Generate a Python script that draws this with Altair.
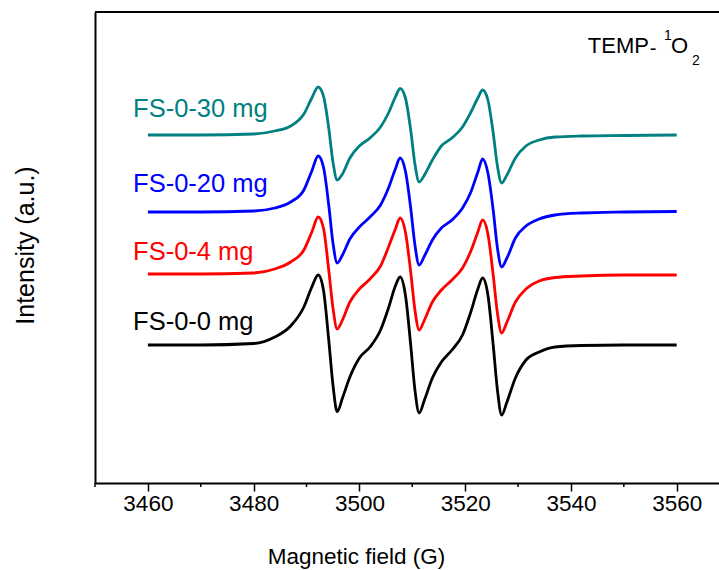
import altair as alt
import pandas as pd

# ---- data ----
field = [3460, 3470, 3480, 3484, 3487, 3489.5, 3491, 3492.2, 3493.2, 3494.2,
         3495.0, 3495.8, 3496.8, 3498.2, 3500, 3502, 3504, 3505.5, 3506.8, 3507.7,
         3508.7, 3509.7, 3510.5, 3511.3, 3512.3, 3513.8, 3515.5, 3517.5, 3519.5, 3521,
         3522.4, 3523.3, 3524.3, 3525.3, 3526.1, 3526.9, 3527.9, 3529.5, 3531.5, 3534,
         3537, 3542, 3550, 3560]

fs_0_0 = [138, 138, 139.5, 146, 157, 176, 196, 208, 193, 143,
          98, 71.3, 85, 106, 125, 136, 153, 175, 197, 206,
          188, 138, 93, 70, 83, 105, 121, 133, 148, 170,
          194, 205, 188, 138, 93, 68, 81, 105, 123, 131,
          136, 137.5, 138, 138]

fs_0_4 = [209, 209, 210, 214, 221, 233, 251, 266, 255, 213,
          175, 154, 163, 181, 194, 204, 217, 236, 254, 265,
          251, 211, 173, 153, 163, 181, 193, 203, 215, 231,
          251, 263, 249, 208, 170, 150, 161, 181, 194, 202,
          205.5, 207, 208, 208]

fs_0_20 = [271, 271, 272, 275, 281, 293, 312, 327, 316, 278,
           240, 220, 228, 244, 256, 266, 278, 295, 314, 325,
           312, 275, 238, 218, 227, 243, 255, 263, 275, 290,
           311, 324, 310, 273, 235, 216, 225, 245, 257, 264,
           268, 270, 271, 271.5]

fs_0_30 = [348, 348, 349, 352, 357, 369, 385, 396, 387, 355,
           321, 303, 309, 325, 337, 345, 356, 370, 386, 394.5,
           385, 353, 319, 301, 308, 323, 337, 345, 356, 370,
           385, 393, 383, 350, 317, 300, 308, 325, 337, 343,
           346, 347, 347.5, 348]

series_names = ["FS-0-0 mg", "FS-0-4 mg", "FS-0-20 mg", "FS-0-30 mg"]
series_colors = ["#000000", "#FF0000", "#0000FF", "#008080"]
series_values = [fs_0_0, fs_0_4, fs_0_20, fs_0_30]

# label anchors (field, intensity) in data units
label_field = [3457.2, 3457.2, 3457.2, 3457.2]
label_intensity = [153, 223, 291.3, 366.3]

major_ticks = [3460, 3480, 3500, 3520, 3540, 3560]
minor_ticks = [3450, 3470, 3490, 3510, 3530, 3550]

# ---- tables ----
rows = []
for name, vals in zip(series_names, series_values):
    for f, v in zip(field, vals):
        rows.append({"field": f, "intensity": v, "series": name})
df = pd.DataFrame(rows)

labels_df = pd.DataFrame({"field": label_field, "intensity": label_intensity,
                          "series": series_names})

temp_text = ["TEMP", "-", "1", "O", "2"]
temp_field = [3543.2, 3554.9, 3557.6, 3558.9, 3562.9]
temp_intensity = [429.7, 428, 443, 429.7, 418]
temp_size = [22, 20, 14, 22, 14]
temp_df = pd.DataFrame({"t": temp_text, "field": temp_field,
                        "intensity": temp_intensity, "size": temp_size})

FONT = "Liberation Sans"
W, H = 624, 471

xscale = alt.Scale(domain=[3450, 3568], nice=False, zero=False)
yscale = alt.Scale(domain=[0, 471], nice=False, zero=False)
cscale = alt.Scale(domain=series_names, range=series_colors)

xaxis = alt.Axis(values=major_ticks, title="Magnetic field (G)",
                 format="d", tickSize=8, tickWidth=1.5, labelPadding=1,
                 labelFontSize=22.5, titleFontSize=22.5, titleX=261, titleY=80,
                 titleBaseline="alphabetic", titleFontWeight="normal",
                 grid=False, domainWidth=2)
yaxis = alt.Axis(labels=False, ticks=False, grid=False, title="Intensity (a.u.)",
                 titleFontSize=25, titleFontWeight="normal", titleAngle=270,
                 titleX=-70, titleY=233, titleAlign="center",
                 titleBaseline="middle", domainWidth=2)

X = alt.X("field:Q", scale=xscale, axis=xaxis, title="Magnetic field (G)")
Y = alt.Y("intensity:Q", scale=yscale, axis=yaxis, title="Intensity (a.u.)")

lines = alt.Chart(df).mark_line(interpolate="monotone", strokeWidth=2.8).encode(
    x=X, y=Y,
    color=alt.Color("series:N", scale=cscale, legend=None),
    detail="series:N",
)

minor = alt.Chart(pd.DataFrame({"field": minor_ticks})).mark_rule(
    color="black", strokeWidth=1.5).encode(
    x=X, y=alt.value(H), y2=alt.value(H + 4))

top_border = alt.Chart(pd.DataFrame({"a": [0]})).mark_rule(
    color="black", strokeWidth=2).encode(
    x=alt.value(0), x2=alt.value(W), y=alt.value(0))

series_labels = alt.Chart(labels_df).mark_text(
    align="left", baseline="alphabetic", fontSize=25.5, font=FONT).encode(
    x=X, y=Y,
    text="series:N",
    color=alt.Color("series:N", scale=cscale, legend=None))

temp = alt.Chart(temp_df).mark_text(
    align="left", baseline="alphabetic", font=FONT, color="black").encode(
    x=X, y=Y,
    text="t:N",
    size=alt.Size("size:Q", scale=None, legend=None))

chart = alt.layer(lines, minor, top_border, series_labels, temp).properties(
    width=W, height=H,
    autosize=alt.AutoSizeParams(type="none"),
    padding={"left": 95, "top": 12, "right": 0, "bottom": 87},
    background="white",
).configure_view(stroke=None).configure_axis(
    labelFont=FONT, titleFont=FONT, domainColor="black", tickColor="black",
    labelColor="black", titleColor="black",
).configure_text(font=FONT)

chart.save("out.html", embed_options={"renderer": "svg", "actions": False})
